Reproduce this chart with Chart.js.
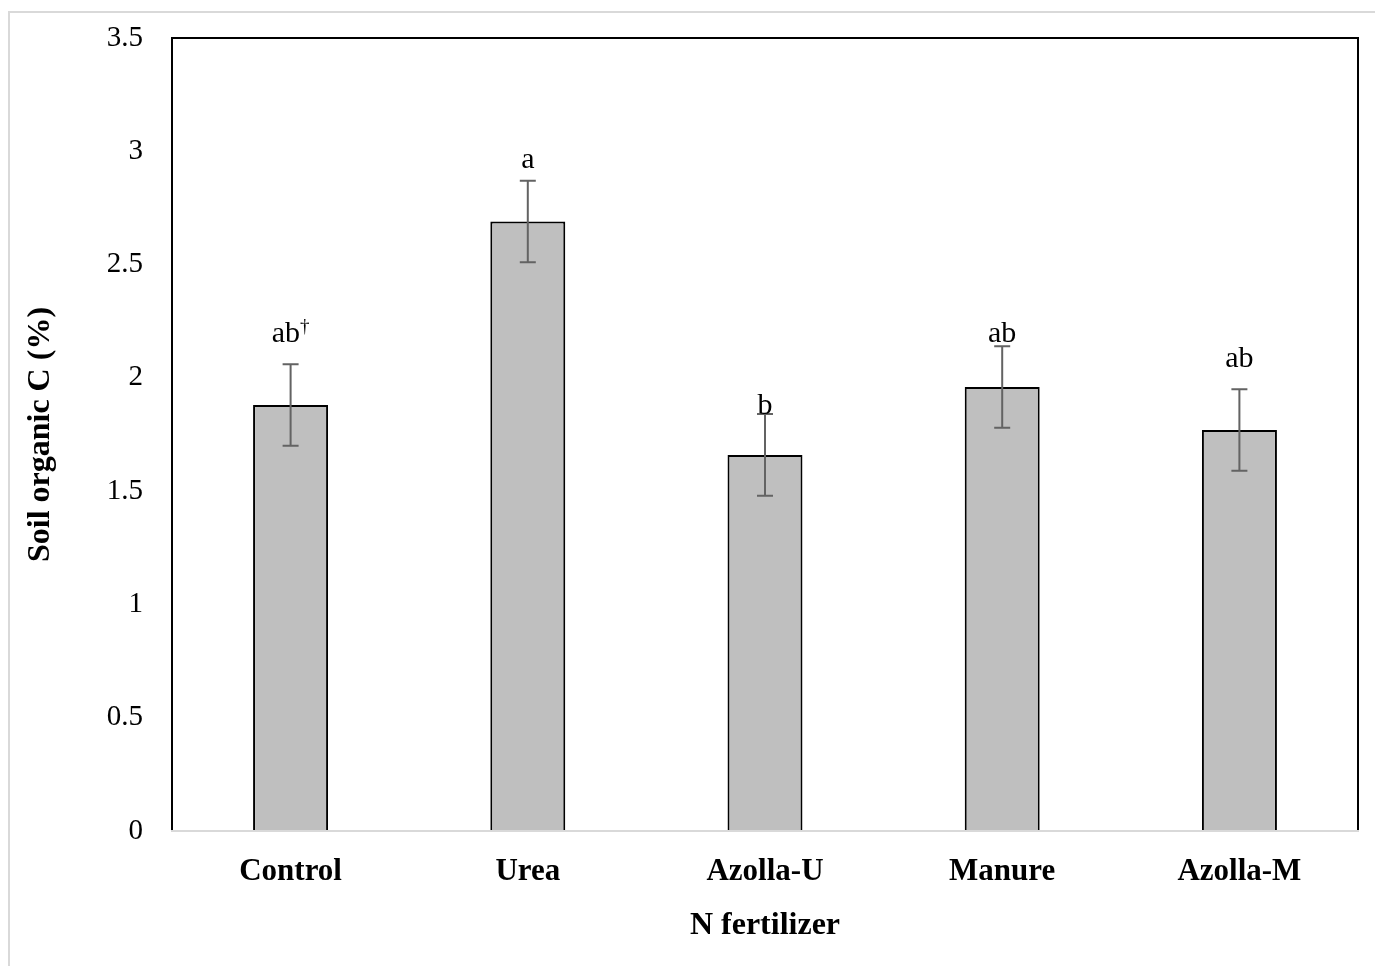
<!DOCTYPE html>
<html>
<head>
<meta charset="utf-8">
<script src="https://cdn.jsdelivr.net/npm/chart.js@4/dist/chart.umd.min.js"></script>
<style>
    html, body { margin: 0; padding: 0; background: #ffffff; }
    #wrap { position: relative; width: 1375px; height: 966px; }
</style>
</head>
<body>
<div id="wrap"><canvas id="socChart"></canvas></div>
<script>
// Soil organic C by N fertilizer treatment
const treatments = ['Control', 'Urea', 'Azolla-U', 'Manure', 'Azolla-M'];
const soilOrganicC = [1.88, 2.69, 1.66, 1.96, 1.77];
const stdError = [0.18, 0.18, 0.18, 0.18, 0.18];
const groupLetters = ['ab\u2020', 'a', 'b', 'ab', 'ab'];
const yTicks = [0, 0.5, 1, 1.5, 2, 2.5, 3, 3.5];

// pixel gap between the top whisker cap and the letter baseline
const letterGap = [22, 13, 0, 4, 22];

const SERIF = '"Liberation Serif", "Times New Roman", serif';

// Error bars, significance letters and the plot frame
const decorations = {
    id: 'decorations',
    beforeDraw(chart) {
        const { ctx } = chart;
        ctx.save();
        ctx.strokeStyle = '#d9d9d9';
        ctx.lineWidth = 2;
        ctx.beginPath();
        ctx.moveTo(9, 966);
        ctx.lineTo(9, 12);
        ctx.lineTo(1375, 12);
        ctx.stroke();
        ctx.restore();
    },
    afterDatasetsDraw(chart) {
        const { ctx, chartArea: a } = chart;
        const y = chart.scales.y;
        const meta = chart.getDatasetMeta(0);

        ctx.save();
        // whiskers
        ctx.strokeStyle = '#636363';
        ctx.lineWidth = 2;
        meta.data.forEach((bar, i) => {
            const hi = y.getPixelForValue(soilOrganicC[i] + stdError[i]);
            const lo = y.getPixelForValue(soilOrganicC[i] - stdError[i]);
            ctx.beginPath();
            ctx.moveTo(bar.x, hi); ctx.lineTo(bar.x, lo);
            ctx.moveTo(bar.x - 8, hi); ctx.lineTo(bar.x + 8, hi);
            ctx.moveTo(bar.x - 8, lo); ctx.lineTo(bar.x + 8, lo);
            ctx.stroke();
        });

        // letters (a trailing dagger is set as a superscript)
        ctx.fillStyle = '#000000';
        ctx.textBaseline = 'alphabetic';
        meta.data.forEach((bar, i) => {
            const base = y.getPixelForValue(soilOrganicC[i] + stdError[i]) - letterGap[i];
            let text = groupLetters[i];
            let sup = '';
            if (text.endsWith('\u2020')) { sup = '\u2020'; text = text.slice(0, -1); }
            ctx.font = '30px ' + SERIF;
            const w = ctx.measureText(text).width;
            ctx.font = '19px ' + SERIF;
            const ws = sup ? ctx.measureText(sup).width : 0;
            const x0 = bar.x - (w + ws) / 2;
            ctx.font = '30px ' + SERIF;
            ctx.textAlign = 'left';
            ctx.fillText(text, x0, base);
            if (sup) {
                ctx.font = '19px ' + SERIF;
                ctx.fillText(sup, x0 + w, base - 10);
            }
        });

        // frame: black on top/left/right, light grey baseline
        ctx.strokeStyle = '#000000';
        ctx.lineWidth = 2;
        ctx.beginPath();
        ctx.moveTo(a.left, a.bottom);
        ctx.lineTo(a.left, a.top);
        ctx.lineTo(a.right, a.top);
        ctx.lineTo(a.right, a.bottom);
        ctx.stroke();
        ctx.strokeStyle = '#d9d9d9';
        ctx.beginPath();
        ctx.moveTo(a.left - 1, a.bottom);
        ctx.lineTo(a.right + 1, a.bottom);
        ctx.stroke();
        ctx.restore();
    }
};

new Chart(document.getElementById('socChart'), {
    type: 'bar',
    data: {
        labels: treatments,
        datasets: [{
            data: soilOrganicC,
            backgroundColor: '#bfbfbf',
            borderColor: '#000000',
            borderWidth: 2,
            borderSkipped: 'bottom',
            barPercentage: 0.316,
            categoryPercentage: 1
        }]
    },
    options: {
        responsive: true,
        maintainAspectRatio: false,
        animation: false,
        layout: { padding: { top: 38, right: 17, left: 0, bottom: 0 } },
        plugins: {
            legend: { display: false },
            tooltip: { enabled: false }
        },
        scales: {
            x: {
                grid: { display: false, drawTicks: false },
                border: { display: false },
                ticks: {
                    color: '#000000',
                    padding: 22,
                    font: { family: SERIF, size: 31, weight: 'bold' }
                },
                title: {
                    display: true,
                    text: 'N fertilizer',
                    color: '#000000',
                    padding: { top: 0, bottom: 21 },
                    font: { family: SERIF, size: 32, weight: 'bold' }
                },
                afterFit(scale) {
                    scale.height = 966 - 831;
                    scale.paddingLeft = 0;
                    scale.paddingRight = 0;
                }
            },
            y: {
                min: 0,
                max: 3.5,
                afterBuildTicks(scale) { scale.ticks = yTicks.map(v => ({ value: v })); },
                grid: { display: false, drawTicks: false },
                border: { display: false },
                ticks: {
                    color: '#000000',
                    padding: 29,
                    font: { family: SERIF, size: 29 },
                    callback: v => String(v)
                },
                title: {
                    display: true,
                    text: 'Soil organic C (%)',
                    color: '#000000',
                    padding: { top: 22, bottom: 0 },
                    font: { family: SERIF, size: 32, weight: 'bold' }
                },
                afterFit(scale) {
                    scale.width = 172;
                    scale.paddingTop = 0;
                    scale.paddingBottom = 0;
                }
            }
        }
    },
    plugins: [decorations]
});
</script>
</body>
</html>
